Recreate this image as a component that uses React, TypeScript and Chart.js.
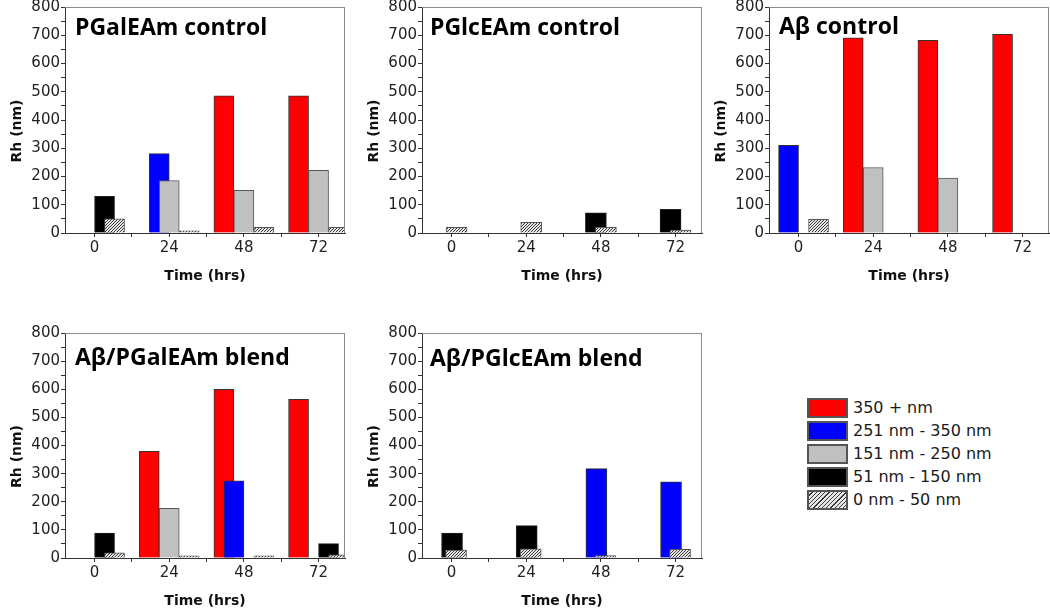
import React, { useEffect, useRef } from "react";
import { Chart, registerables } from "chart.js";
Chart.register(...registerables);

// ---------- data ----------
const TIMES = [0, 24, 48, 72];
const SIZE_CLASSES = ["350 + nm", "251 nm - 350 nm", "151 nm - 250 nm", "51 nm - 150 nm", "0 nm - 50 nm"];
const Y_TICK_MAX = 800;

// PGalEAm control
const pgalRed = [null, null, 486, 486];
const pgalBlue = [null, 281, null, null];
const pgalGray = [null, 186, 151, 222];
const pgalBlack = [130, null, null, null];
const pgalHatch = [50, 8, 20, 20];

// PGlcEAm control
const pglcBlack = [null, null, 71, 84];
const pglcHatch = [20, 38, 20, 10];

// Aβ control
const abRed = [null, 691, 682, 703];
const abBlue = [310, null, null, null];
const abGray = [null, 232, 194, null];
const abHatch = [48, null, null, null];

// Aβ/PGalEAm blend
const abGalRed = [null, 379, 600, 564];
const abGalBlue = [null, null, 274, null];
const abGalGray = [null, 177, null, null];
const abGalBlack = [89, null, null, 51];
const abGalHatch = [18, 8, 8, 11];

// Aβ/PGlcEAm blend
const abGlcBlue = [null, null, 318, 271];
const abGlcBlack = [89, 115, null, null];
const abGlcHatch = [28, 33, 9, 31];

// ---------- styling / layout ----------
const FILLS = ["#ff0000", "#0000ff", "#c0c0c0", "#000000", "hatch"];
const BORDERS = ["#333333", "#333333", "#555555", "#222222", "#555555"];
const X_MIN = -9.5;
const X_MAX = 80.5;
const AREA_W = 280;
const Y_AXIS_W = 65;
const X_AXIS_H = 52;
const PAD_TOP = 12;
const PAD_RIGHT = 2;

type Series = { k: number; values: (number | null)[]; off: number };
type PanelCfg = {
  title: string;
  left: number;
  top: number;
  areaH: number;
  barW: number;
  dx: number;
  dy: number;
  series: Series[];
};

const PANELS: PanelCfg[] = [
  {
    title: "PGalEAm control", left: 0, top: -5, areaH: 226, barW: 20, dx: 10, dy: 28,
    series: [
      { k: 0, values: pgalRed, off: -20 },
      { k: 1, values: pgalBlue, off: -10 },
      { k: 2, values: pgalGray, off: 0 },
      { k: 3, values: pgalBlack, off: 10 },
      { k: 4, values: pgalHatch, off: 20 },
    ],
  },
  {
    title: "PGlcEAm control", left: 357, top: -5, areaH: 226, barW: 21, dx: 8, dy: 27.5,
    series: [
      { k: 3, values: pglcBlack, off: -5 },
      { k: 4, values: pglcHatch, off: 5 },
    ],
  },
  {
    title: "Aβ control", left: 704, top: -5, areaH: 226, barW: 20, dx: 10, dy: 27,
    series: [
      { k: 0, values: abRed, off: -20 },
      { k: 1, values: abBlue, off: -10 },
      { k: 2, values: abGray, off: 0 },
      { k: 4, values: abHatch, off: 20 },
    ],
  },
  {
    title: "Aβ/PGalEAm blend", left: 0, top: 321, areaH: 225, barW: 20, dx: 10, dy: 31.5,
    series: [
      { k: 0, values: abGalRed, off: -20 },
      { k: 1, values: abGalBlue, off: -10 },
      { k: 2, values: abGalGray, off: 0 },
      { k: 3, values: abGalBlack, off: 10 },
      { k: 4, values: abGalHatch, off: 20 },
    ],
  },
  {
    title: "Aβ/PGlcEAm blend", left: 357, top: 321, areaH: 225, barW: 21, dx: 8, dy: 32.5,
    series: [
      { k: 1, values: abGlcBlue, off: -4.5 },
      { k: 3, values: abGlcBlack, off: 0.5 },
      { k: 4, values: abGlcHatch, off: 4.5 },
    ],
  },
];

function makeHatch(): CanvasPattern | string {
  const c = document.createElement("canvas");
  c.width = 3;
  c.height = 3;
  const g = c.getContext("2d");
  if (!g) return "#aaa";
  g.fillStyle = "#e6e6e6";
  g.fillRect(0, 0, 3, 3);
  g.strokeStyle = "#3a3a3a";
  g.lineWidth = 1;
  g.beginPath();
  g.moveTo(0, 3);
  g.lineTo(3, 0);
  g.moveTo(-1, 1);
  g.lineTo(1, -1);
  g.moveTo(2, 4);
  g.lineTo(4, 2);
  g.stroke();
  return g.createPattern(c, "repeat") || "#aaa";
}

function Panel({ cfg }: { cfg: PanelCfg }) {
  const ref = useRef<HTMLCanvasElement>(null);
  const width = Y_AXIS_W + AREA_W + PAD_RIGHT;
  const height = PAD_TOP + cfg.areaH + X_AXIS_H;

  useEffect(() => {
    if (!ref.current) return;
    const hatch = makeHatch();
    const pxPerHr = AREA_W / (X_MAX - X_MIN);
    const datasets = cfg.series.map((s) => ({
      label: SIZE_CLASSES[s.k],
      data: TIMES.map((t, i) => (s.values[i] == null ? null : { x: t + s.off / pxPerHr, y: s.values[i] })).filter(
        (p) => p !== null
      ) as { x: number; y: number }[],
      backgroundColor: FILLS[s.k] === "hatch" ? hatch : FILLS[s.k],
      borderColor: BORDERS[s.k],
      borderWidth: 1,
      barThickness: cfg.barW,
      grouped: false,
      order: 10 - s.k,
    }));

    const framePlugin = {
      id: "frameAndTitle",
      afterDraw(chart: any) {
        const { ctx, chartArea } = chart;
        const { left, right, top, bottom } = chartArea;
        ctx.save();
        ctx.strokeStyle = "#8c8c8c";
        ctx.lineWidth = 1;
        ctx.beginPath();
        ctx.moveTo(left, top + 0.5);
        ctx.lineTo(right, top + 0.5);
        ctx.moveTo(right - 0.5, top);
        ctx.lineTo(right - 0.5, bottom);
        ctx.stroke();
        // panel title
        ctx.fillStyle = "#000";
        ctx.font = "bold 23px 'Open Sans'";
        ctx.textAlign = "left";
        ctx.textBaseline = "alphabetic";
        ctx.fillText(cfg.title, left + cfg.dx, top + cfg.dy);
        // y axis title
        ctx.translate(left - 48, (top + bottom) / 2 + 11);
        ctx.rotate(-Math.PI / 2);
        ctx.font = "bold 14px 'DejaVu Sans'";
        ctx.textAlign = "center";
        ctx.textBaseline = "middle";
        ctx.fillStyle = "#111";
        ctx.fillText("Rh (nm)", 0, 0);
        ctx.restore();
      },
    };

    const chart = new Chart(ref.current, {
      type: "bar",
      data: { datasets: datasets as any },
      options: {
        responsive: false,
        animation: false,
        devicePixelRatio: 1,
        layout: { padding: { top: PAD_TOP, right: PAD_RIGHT, left: 0, bottom: 0 } },
        plugins: { legend: { display: false }, tooltip: { enabled: false } },
        scales: {
          x: {
            type: "linear",
            min: X_MIN,
            max: X_MAX,
            offset: false,
            afterFit: (s: any) => {
              s.height = X_AXIS_H;
            },
            grid: { display: true, drawOnChartArea: false, drawTicks: true, tickLength: 4, color: "#333", offset: false },
            border: { display: true, color: "#333", width: 1 },
            ticks: {
              stepSize: 12,
              includeBounds: false,
              autoSkip: false,
              maxRotation: 0,
              padding: 2,
              color: "#222",
              font: { family: "'DejaVu Sans'", size: 15 },
              callback: (v: any) => (Number(v) >= 0 && Number(v) % 24 === 0 ? String(v) : ""),
            },
            title: {
              display: true,
              text: "Time (hrs)",
              color: "#111",
              font: { family: "'DejaVu Sans'", size: 14, weight: "bold" },
              padding: { top: 0, bottom: 0 },
            },
          },
          y: {
            min: 0,
            max: Y_TICK_MAX,
            afterFit: (s: any) => {
              s.width = Y_AXIS_W;
            },
            grid: { display: true, drawOnChartArea: false, drawTicks: true, tickLength: 4, color: "#333" },
            border: { display: true, color: "#333", width: 1 },
            ticks: {
              stepSize: 50,
              autoSkip: false,
              padding: 1,
              color: "#222",
              font: { family: "'DejaVu Sans'", size: 15 },
              callback: (v: any) => (Number(v) % 100 === 0 ? String(v) : ""),
            },
            title: { display: false },
          },
        },
      } as any,
      plugins: [framePlugin],
    });
    return () => chart.destroy();
  }, [cfg]);

  return (
    <canvas
      ref={ref}
      width={width}
      height={height}
      style={{ position: "absolute", left: cfg.left, top: cfg.top, width, height }}
    />
  );
}

const LEGEND_BG = [
  "#ff0000",
  "#0000ff",
  "#c0c0c0",
  "#000000",
  "repeating-linear-gradient(135deg, #e6e6e6 0px, #e6e6e6 2px, #3a3a3a 2px, #3a3a3a 3px)",
];

export default function App() {
  return (
    <div
      style={{
        position: "fixed",
        left: 0,
        top: 0,
        width: 1050,
        height: 611,
        background: "#fff",
        overflow: "hidden",
      }}
    >
      {PANELS.map((p, i) => (
        <Panel key={i} cfg={p} />
      ))}
      <div style={{ position: "absolute", left: 807, top: 396.5 }}>
        {SIZE_CLASSES.map((name, i) => (
          <div key={i} style={{ display: "flex", alignItems: "center", height: 23 }}>
            <div
              style={{
                width: 41,
                height: 20,
                boxSizing: "border-box",
                border: "2px solid #555",
                background: LEGEND_BG[i],
              }}
            />
            <span
              style={{
                marginLeft: 5,
                fontFamily: "'DejaVu Sans'",
                fontSize: 16,
                color: "#1a1a1a",
                lineHeight: "20px",
                whiteSpace: "nowrap",
              }}
            >
              {name}
            </span>
          </div>
        ))}
      </div>
    </div>
  );
}
